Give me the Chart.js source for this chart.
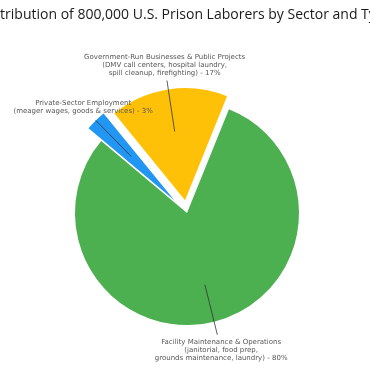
<!DOCTYPE html>
<html>
<head>
<meta charset="utf-8">
<script src="https://cdn.jsdelivr.net/npm/chart.js@4.4.0/dist/chart.umd.min.js"></script>
<style>
html, body { margin: 0; padding: 0; background: #fff; }
</style>
</head>
<body>
<canvas id="myChart" width="370" height="370"></canvas>
<script>
// prison labor by sector

var title_text = "Distribution of 800,000 U.S. Prison Laborers by Sector and Type";

var sectors = ["Facility Maintenance & Operations",
               "Private-Sector Employment",
               "Government-Run Businesses & Public Projects"];
var details = [["(janitorial, food prep,", "grounds maintenance, laundry)"],
               ["(meager wages, goods & services)"],
               ["(DMV call centers, hospital laundry,", "spill cleanup, firefighting)"]];
var shares = [80, 3, 17];
var colors = ["#4CAF50", "#2196F3", "#FFC107"];

// how far each slice is pulled out, and where its label sits
var explode = [0, 18, 13];
var leader = [[0.66, 1.12], [0.55, 1.0], [0.62, 1.08]];
var textDist = [1.26, 1.16, 1.22];

const label_lines = (i) => {
    var out = [sectors[i]];
    var d = details[i];
    for (let k = 0; k < d.length; k++) {
        if (k == d.length - 1) out.push(d[k] + " - " + shares[i] + "%");
        else out.push(d[k]);
    }
    return out;
}

const explodePlugin = {
    id: "explode",
    afterDatasetUpdate(chart, args) {
        args.meta.data.forEach((arc, i) => {
            let mid = (arc.startAngle + arc.endAngle) / 2;
            arc.x += Math.cos(mid) * explode[i];
            arc.y += Math.sin(mid) * explode[i];
        });
    }
};

const labelPlugin = {
    id: "sliceLabels",
    afterDatasetsDraw(chart) {
        const ctx = chart.ctx;
        const meta = chart.getDatasetMeta(0);
        ctx.save();
        meta.data.forEach((arc, i) => {
            let mid = (arc.startAngle + arc.endAngle) / 2;
            let r = arc.outerRadius;
            let c = Math.cos(mid), s = Math.sin(mid);

            ctx.strokeStyle = "#333";
            ctx.lineWidth = 0.8;
            ctx.beginPath();
            ctx.moveTo(arc.x + c * r * leader[i][0], arc.y + s * r * leader[i][0]);
            ctx.lineTo(arc.x + c * r * leader[i][1], arc.y + s * r * leader[i][1]);
            ctx.stroke();

            let lines = label_lines(i);
            let lh = 8;
            let tx = arc.x + c * r * textDist[i];
            let ty = arc.y + s * r * textDist[i] - (lines.length - 1) * lh / 2;
            ctx.fillStyle = "#555";
            ctx.font = "7px 'DejaVu Sans'";
            ctx.textAlign = "center";
            ctx.textBaseline = "middle";
            lines.forEach((t, k) => ctx.fillText(t, tx, ty + k * lh));
        });
        ctx.restore();
    }
};

// title is wider than the canvas and gets cut off on both sides
const titlePlugin = {
    id: "wideTitle",
    afterDraw(chart) {
        const ctx = chart.ctx;
        ctx.save();
        ctx.fillStyle = "#1a1a1a";
        ctx.font = "14px 'Open Sans'";
        ctx.textAlign = "center";
        ctx.textBaseline = "middle";
        ctx.fillText(title_text, chart.width / 2 + 1, 15);
        ctx.restore();
    }
};

new Chart("myChart", {
    type: "pie",
    data: {
        labels: sectors,
        datasets: [{
            data: shares,
            backgroundColor: colors,
            borderWidth: 0
        }]
    },
    options: {
        responsive: false,
        animation: false,
        events: [],
        rotation: 22,
        radius: 112,
        layout: { padding: { top: 56, left: 4, right: 0, bottom: 0 } },
        plugins: {
            legend: { display: false },
            title: { display: false },
            tooltip: { enabled: false }
        }
    },
    plugins: [explodePlugin, labelPlugin, titlePlugin]
});
</script>
</body>
</html>
